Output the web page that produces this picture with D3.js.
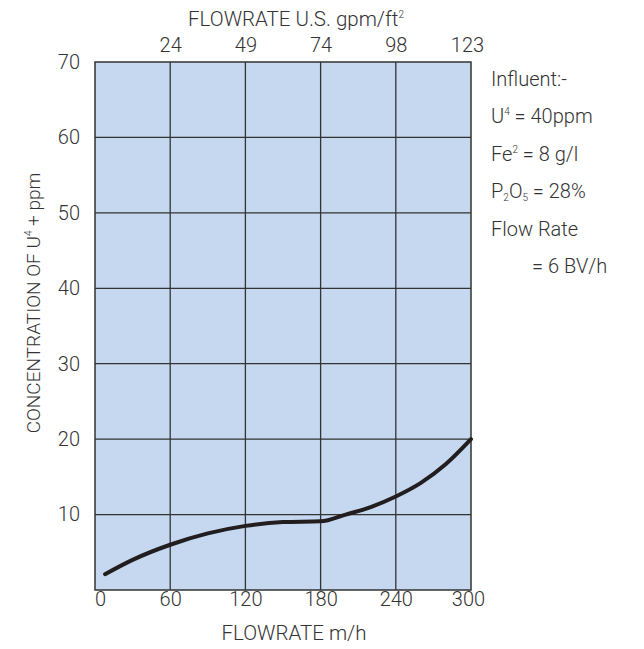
<!DOCTYPE html>
<html>
<head>
<meta charset="utf-8">
<script src="https://cdn.jsdelivr.net/npm/d3@7"></script>
<style>
  html, body { margin: 0; padding: 0; background: #fff; }
  svg { display: block; }
  text { font-family: "Roboto", "Liberation Sans", sans-serif; font-weight: 300; fill: #333; }
</style>
</head>
<body>
<svg id="chart" width="644" height="649"></svg>
<script>
// Flowrate in m/h and the matching U4+ concentration in ppm
const flowrate = [8, 30, 60, 90, 120, 150, 180, 200, 220, 240, 260, 280, 300];
const concentration = [2.1, 4.0, 6.0, 7.5, 8.5, 9.0, 9.1, 10.0, 11.0, 12.4, 14.2, 16.7, 20.0];

// Axis ticks
const xTicks = [0, 60, 120, 180, 240, 300];
const yTicks = [10, 20, 30, 40, 50, 60, 70];
const topTickValues = [60, 120, 180, 240, 300];
const topTickLabels = ["24", "49", "74", "98", "123"];

// Influent conditions listed beside the plot
const notes = [
  [{t: "Influent:-"}],
  [{t: "U"}, {t: "4", sup: true}, {t: " = 40ppm"}],
  [{t: "Fe"}, {t: "2", sup: true}, {t: " = 8 g/l"}],
  [{t: "P"}, {t: "2", sub: true}, {t: "O"}, {t: "5", sub: true}, {t: " = 28%"}],
  [{t: "Flow Rate"}],
  [{t: "= 6 BV/h", indent: true}]
];

const FONT = "Roboto, 'Liberation Sans', sans-serif";
const svg = d3.select("#chart");
const plot = {left: 95, right: 471, top: 62, bottom: 590};

const x = d3.scaleLinear().domain([0, 300]).range([plot.left, plot.right]);
const y = d3.scaleLinear().domain([0, 70]).range([plot.bottom, plot.top]);

// Background panel
svg.append("rect")
  .attr("x", plot.left).attr("y", plot.top)
  .attr("width", plot.right - plot.left).attr("height", plot.bottom - plot.top)
  .attr("fill", "#c5d8ef");

// Grid lines
const grid = svg.append("g").attr("stroke", "#333").attr("stroke-width", 1.3);
grid.selectAll("line.v").data(xTicks.slice(1, -1)).join("line")
  .attr("x1", d => x(d)).attr("x2", d => x(d))
  .attr("y1", plot.top).attr("y2", plot.bottom);
grid.selectAll("line.h").data(yTicks.slice(0, -1)).join("line")
  .attr("x1", plot.left).attr("x2", plot.right)
  .attr("y1", d => y(d)).attr("y2", d => y(d));

// Frame
svg.append("rect")
  .attr("x", plot.left).attr("y", plot.top)
  .attr("width", plot.right - plot.left).attr("height", plot.bottom - plot.top)
  .attr("fill", "none").attr("stroke", "#333").attr("stroke-width", 1.5);

// Concentration curve
const line = d3.line()
  .x((d, i) => x(flowrate[i]))
  .y(d => y(d))
  .curve(d3.curveMonotoneX);
svg.append("path")
  .datum(concentration)
  .attr("d", line)
  .attr("fill", "none")
  .attr("stroke", "#221e1f")
  .attr("stroke-width", 4)
  .attr("stroke-linecap", "round");

function styleTicks(sel) {
  sel.style("font-size", "20px").style("fill", "#333")
    .style("font-family", FONT).style("font-weight", 300);
}

// Bottom axis labels (m/h)
const xAxis = d3.axisBottom(x).tickValues(xTicks).tickSize(0).tickPadding(0);
const gx = svg.append("g").attr("transform", `translate(0,${plot.bottom})`).call(xAxis);
gx.select(".domain").remove();
gx.selectAll("text")
  .attr("y", 16).attr("dy", 0)
  .attr("dx", d => d === 0 ? 5 : (d === 300 ? -3 : 0))
  .call(styleTicks);

// Top axis labels (US gpm/ft2)
const xTop = d3.axisTop(x).tickValues(topTickValues)
  .tickFormat((d, i) => topTickLabels[i]).tickSize(0).tickPadding(0);
const gt = svg.append("g").attr("transform", `translate(0,${plot.top})`).call(xTop);
gt.select(".domain").remove();
gt.selectAll("text")
  .attr("y", -10)
  .attr("dx", d => d === 300 ? -4 : 0)
  .call(styleTicks);

// Left axis labels (ppm)
const yAxis = d3.axisLeft(y).tickValues(yTicks).tickSize(0).tickPadding(0);
const gy = svg.append("g").attr("transform", `translate(${plot.left},0)`).call(yAxis);
gy.select(".domain").remove();
gy.selectAll("text")
  .attr("x", -15)
  .call(styleTicks);

// Axis titles
svg.append("text")
  .attr("x", 296).attr("y", 26)
  .attr("text-anchor", "middle").style("font-size", "20.5px")
  .call(t => {
    t.append("tspan").text("FLOWRATE U.S. gpm/ft");
    t.append("tspan").text("2").style("font-size", "10px").attr("dy", -8);
  });

svg.append("text")
  .attr("x", 294).attr("y", 640)
  .attr("text-anchor", "middle").style("font-size", "20.5px")
  .text("FLOWRATE m/h");

svg.append("text")
  .attr("transform", "translate(40,303) rotate(-90)")
  .attr("text-anchor", "middle").style("font-size", "19px")
  .call(t => {
    t.append("tspan").text("CONCENTRATION OF U");
    t.append("tspan").text("4").style("font-size", "10px").attr("dy", -8);
    t.append("tspan").text(" + ppm").attr("dy", 8);
  });

// Influent notes
const noteG = svg.append("g");
notes.forEach((parts, row) => {
  const t = noteG.append("text")
    .attr("x", parts[0].indent ? 532 : 491)
    .attr("y", 86 + row * 37.4)
    .style("font-size", "20px");
  let shift = 0;
  parts.forEach(p => {
    const s = t.append("tspan").text(p.t);
    let target = 0;
    if (p.sup) { s.style("font-size", "10px"); target = -8; }
    if (p.sub) { s.style("font-size", "10px"); target = 3; }
    s.attr("dy", target - shift);
    shift = target;
  });
});
</script>
</body>
</html>
